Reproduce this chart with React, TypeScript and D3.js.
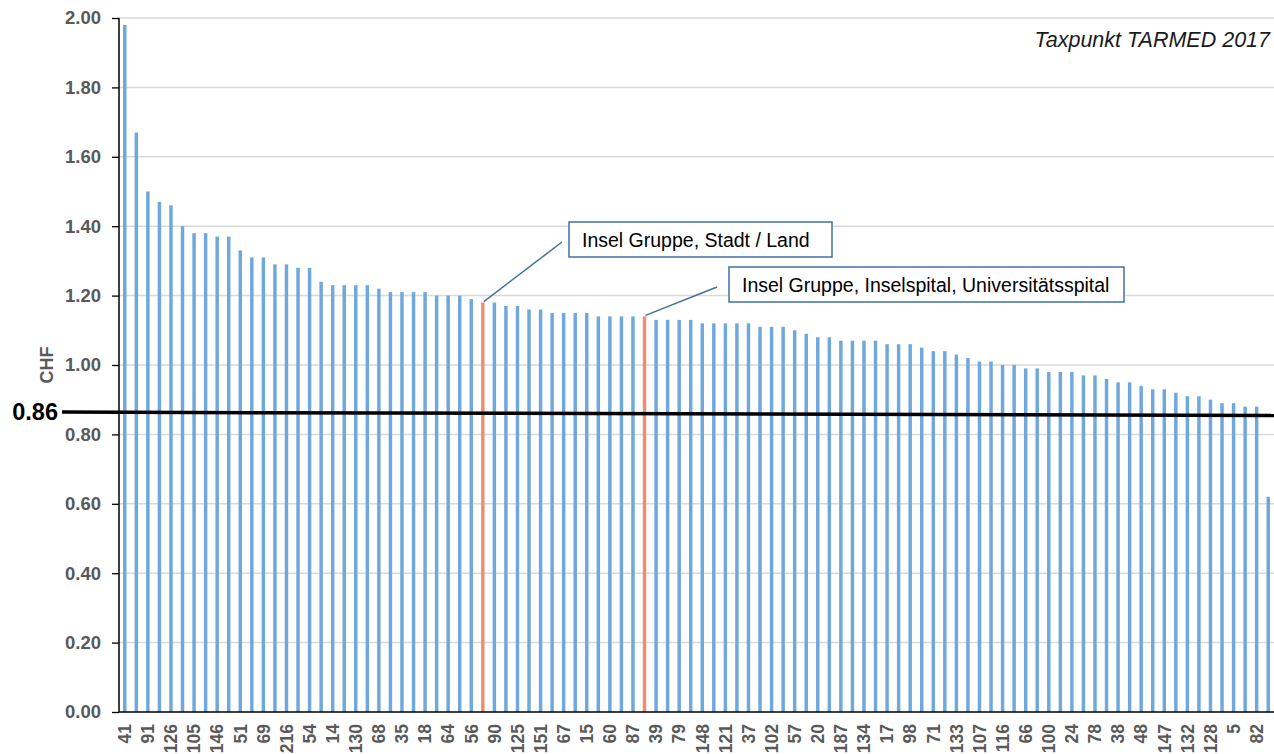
import React, { useEffect, useRef } from "react";
import * as d3 from "d3";

// bar values, sorted descending (CHF per Taxpunkt)
const values = [
  1.98, 1.67, 1.5, 1.47, 1.46, 1.4, 1.38, 1.38, 1.37, 1.37,
  1.33, 1.31, 1.31, 1.29, 1.29, 1.28, 1.28, 1.24, 1.23, 1.23,
  1.23, 1.23, 1.22, 1.21, 1.21, 1.21, 1.21, 1.2, 1.2, 1.2,
  1.19, 1.18, 1.18, 1.17, 1.17, 1.16, 1.16, 1.15, 1.15, 1.15,
  1.15, 1.14, 1.14, 1.14, 1.14, 1.14, 1.13, 1.13, 1.13, 1.13,
  1.12, 1.12, 1.12, 1.12, 1.12, 1.11, 1.11, 1.11, 1.1, 1.09,
  1.08, 1.08, 1.07, 1.07, 1.07, 1.07, 1.06, 1.06, 1.06, 1.05,
  1.04, 1.04, 1.03, 1.02, 1.01, 1.01, 1.0, 1.0, 0.99, 0.99,
  0.98, 0.98, 0.98, 0.97, 0.97, 0.96, 0.95, 0.95, 0.94, 0.93,
  0.93, 0.92, 0.91, 0.91, 0.9, 0.89, 0.89, 0.88, 0.88, 0.62,
];

// only every second bar carries a label on the axis
const tickLabels = [
  "41", "91", "126", "105", "146", "51", "69", "216", "54", "14",
  "130", "68", "35", "18", "64", "56", "90", "125", "151", "67",
  "15", "60", "87", "39", "79", "148", "121", "37", "102", "57",
  "20", "187", "134", "17", "98", "71", "133", "107", "116", "66",
  "100", "24", "78", "38", "48", "147", "132", "128", "5", "82",
];

const highlighted = [31, 45];
const callouts = [
  { bar: 31, text: "Insel Gruppe, Stadt / Land" },
  { bar: 45, text: "Insel Gruppe, Inselspital, Universitätsspital" },
];
const referenceValue = 0.86;
const yTicks = [0, 0.2, 0.4, 0.6, 0.8, 1.0, 1.2, 1.4, 1.6, 1.8, 2.0];

const W = 1274;
const H = 754;
const FONT = "'Liberation Sans', Arial, sans-serif";

export default function App() {
  const ref = useRef<SVGSVGElement>(null);

  useEffect(() => {
    const svg = d3.select(ref.current);
    svg.selectAll("*").remove();

    const left = 119;
    const right = W;
    const top = 18;
    const bottom = 712;

    const x = d3
      .scaleBand<number>()
      .domain(values.map((_, i) => i))
      .range([left, right])
      .paddingInner(0.7)
      .paddingOuter(0.35);
    const y = d3.scaleLinear().domain([0, 2]).range([bottom, top]);

    // gridlines
    svg
      .append("g")
      .selectAll("line")
      .data(yTicks.slice(1))
      .enter()
      .append("line")
      .attr("x1", left)
      .attr("x2", right)
      .attr("y1", (d) => y(d))
      .attr("y2", (d) => y(d))
      .attr("stroke", "#d9d9d9")
      .attr("stroke-width", 1.5);

    // bars
    svg
      .append("g")
      .selectAll("rect")
      .data(values)
      .enter()
      .append("rect")
      .attr("x", (d, i) => x(i)!)
      .attr("y", (d) => y(d))
      .attr("width", x.bandwidth())
      .attr("height", (d) => bottom - y(d))
      .attr("fill", (d, i) => (highlighted.includes(i) ? "#f28b74" : "#6fa8dc"));

    // y axis
    const yAxis = d3
      .axisLeft(y)
      .tickValues(yTicks)
      .tickFormat(d3.format(".2f"))
      .tickSize(7)
      .tickPadding(11);
    const gy = svg.append("g").attr("transform", `translate(${left},0)`).call(yAxis);
    gy.select(".domain").remove();
    gy.selectAll("line").attr("stroke", "#000").attr("stroke-width", 1.3);
    gy.selectAll("text")
      .attr("fill", "#595959")
      .style("font-family", FONT)
      .style("font-size", "18.5px")
      .style("font-weight", "bold");
    svg
      .append("line")
      .attr("x1", left)
      .attr("x2", left)
      .attr("y1", top)
      .attr("y2", bottom)
      .attr("stroke", "#000")
      .attr("stroke-width", 1.5);

    // x axis
    const xAxis = d3
      .axisBottom(x)
      .tickValues(values.map((_, i) => i).filter((i) => i % 2 === 0))
      .tickFormat((i) => tickLabels[(i as number) / 2])
      .tickSize(0);
    const gx = svg.append("g").attr("transform", `translate(0,${bottom})`).call(xAxis);
    gx.select(".domain").remove();
    gx.selectAll("text")
      .attr("transform", "rotate(-90)")
      .attr("text-anchor", "end")
      .attr("x", -12)
      .attr("y", 0)
      .attr("dy", "0.36em")
      .attr("fill", "#595959")
      .style("font-family", FONT)
      .style("font-size", "17.5px")
      .style("font-weight", "bold");
    svg
      .append("line")
      .attr("x1", left)
      .attr("x2", right)
      .attr("y1", bottom)
      .attr("y2", bottom)
      .attr("stroke", "#000")
      .attr("stroke-width", 1.5);

    // CHF label
    svg
      .append("text")
      .attr("transform", `translate(53,${y(1.0)}) rotate(-90)`)
      .attr("text-anchor", "middle")
      .attr("fill", "#595959")
      .style("font-family", FONT)
      .style("font-size", "18px")
      .style("font-weight", "bold")
      .text("CHF");

    // reference line 0.86
    const yr = y(referenceValue);
    svg
      .append("line")
      .attr("x1", 62)
      .attr("x2", right)
      .attr("y1", yr - 1.5)
      .attr("y2", yr + 2)
      .attr("stroke", "#000")
      .attr("stroke-width", 3.5);
    svg
      .append("text")
      .attr("x", 58)
      .attr("y", yr + 6)
      .attr("text-anchor", "end")
      .attr("fill", "#000")
      .style("font-family", FONT)
      .style("font-size", "23.5px")
      .style("font-weight", "bold")
      .text(referenceValue.toFixed(2));

    // title
    svg
      .append("text")
      .attr("x", 1270)
      .attr("y", 47)
      .attr("text-anchor", "end")
      .attr("fill", "#1a1a1a")
      .style("font-family", FONT)
      .style("font-size", "21.5px")
      .style("font-style", "italic")
      .text("Taxpunkt TARMED 2017");

    // callouts
    const boxes = [
      { x: 569, y: 222, w: 263, h: 35, lx: 562, ly: 242 },
      { x: 729, y: 267, w: 395, h: 35, lx: 717, ly: 287 },
    ];
    callouts.forEach((c, k) => {
      const b = boxes[k];
      const bx = x(c.bar)! + x.bandwidth() / 2;
      svg
        .append("line")
        .attr("x1", bx + 1)
        .attr("y1", y(values[c.bar]) - 1)
        .attr("x2", b.lx)
        .attr("y2", b.ly)
        .attr("stroke", "#41719c")
        .attr("stroke-width", 1.5);
      svg
        .append("rect")
        .attr("x", b.x)
        .attr("y", b.y)
        .attr("width", b.w)
        .attr("height", b.h)
        .attr("fill", "#fff")
        .attr("stroke", "#41719c")
        .attr("stroke-width", 1.5);
      svg
        .append("text")
        .attr("x", b.x + 13)
        .attr("y", b.y + b.h / 2 + 7)
        .attr("fill", "#000")
        .style("font-family", FONT)
        .style("font-size", "19.5px")
        .text(c.text);
    });
  }, []);

  return (
    <svg
      ref={ref}
      width={W}
      height={H}
      style={{ position: "absolute", left: 0, top: 0, background: "#fff" }}
    />
  );
}
